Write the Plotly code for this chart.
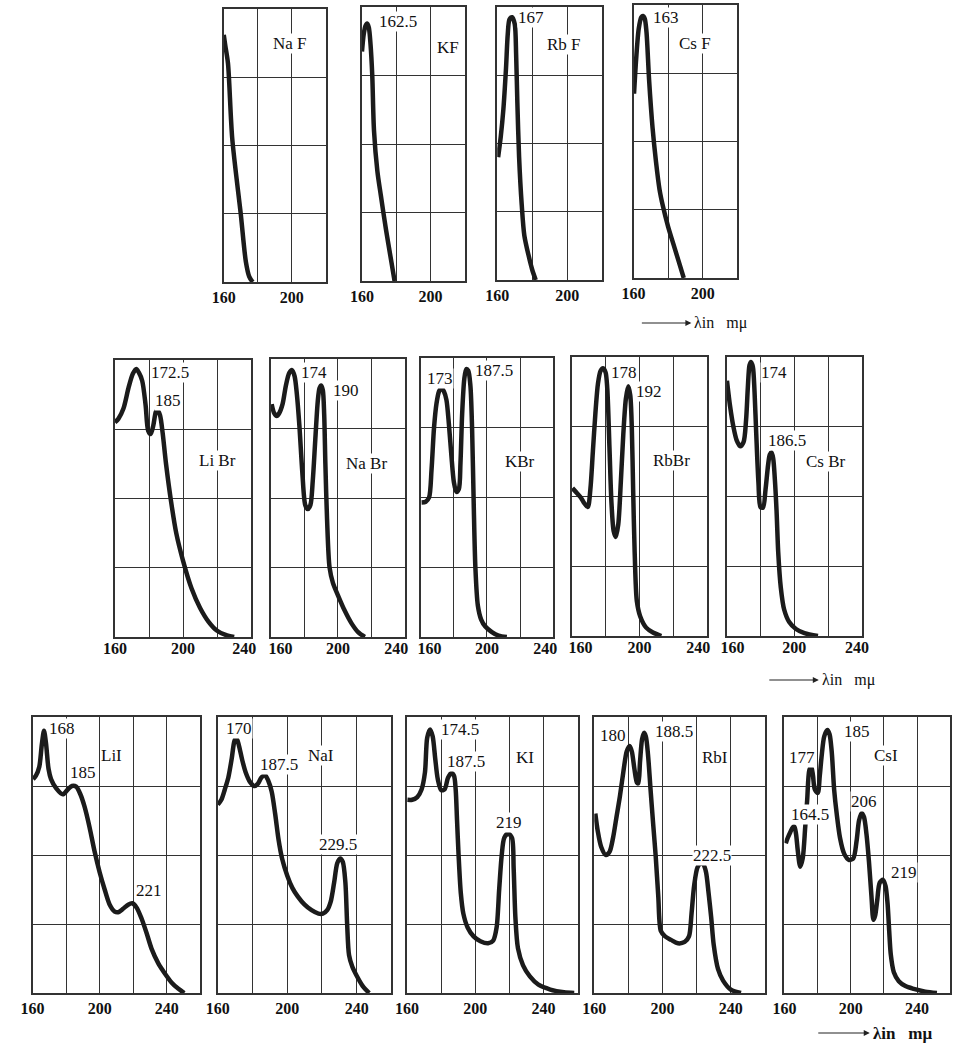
import plotly.graph_objects as go

W, H = 965, 1050

# ---------------- data (wavelength in m-mu, relative absorption in grid units 0..4) ----------------
NAMES = ["NaF", "KF", "RbF", "CsF", "LiBr", "NaBr", "KBr", "RbBr", "CsBr", "LiI", "NaI", "KI", "RbI", "CsI"]

NAF_X = [160, 161, 162.5, 165, 170, 173, 175, 177]
NAF_Y = [3.62, 3.45, 3.2, 2.1, 1.0, 0.3, 0.08, 0]

KF_X = [160, 161, 162, 163, 164, 165, 166, 167, 169, 171, 174, 177, 179]
KF_Y = [3.35, 3.6, 3.72, 3.76, 3.7, 3.45, 3.0, 2.2, 1.6, 1.25, 0.75, 0.3, 0.0]

RBF_X = [160.5, 162, 163.5, 165, 166, 167, 168.5, 170, 170.8, 171.5, 172.5, 174, 175.5, 178, 180, 182]
RBF_Y = [1.8, 2.1, 2.5, 3.1, 3.6, 3.82, 3.85, 3.75, 3.3, 2.6, 1.8, 1.1, 0.65, 0.35, 0.15, 0]

CSF_X = [160.3, 161.5, 163, 164.5, 165.5, 166.5, 167.5, 169, 171, 173, 175, 177, 180, 183, 186, 189]
CSF_Y = [2.7, 3.2, 3.65, 3.82, 3.84, 3.8, 3.6, 2.9, 2.2, 1.7, 1.3, 1.05, 0.75, 0.5, 0.25, 0]

LIBR_X = [160, 162, 165, 168, 170.5, 172.5, 174, 176, 178, 179.5, 181, 182.5, 184, 185, 186.5, 188, 190,
          193, 196, 200, 205, 210, 215, 220, 225, 230]
LIBR_Y = [3.1, 3.15, 3.3, 3.6, 3.8, 3.87, 3.82, 3.7, 3.35, 2.98, 2.93, 3.05, 3.25, 3.28, 3.2, 2.95, 2.5,
          1.95, 1.5, 1.1, 0.7, 0.42, 0.22, 0.09, 0.03, 0]

NABR_X = [160.5, 162, 163.5, 165, 167, 169, 171, 172.7, 174.2, 175.5, 177, 178.8, 180.5, 182, 183.6, 185,
          186.5, 188, 189, 190, 191, 191.8, 192.5, 193.5, 195, 197, 200, 204, 208, 212, 216]
NABR_Y = [3.35, 3.22, 3.18, 3.22, 3.35, 3.62, 3.8, 3.84, 3.75, 3.5, 3.05, 2.36, 1.9, 1.84, 1.9, 2.25,
          2.84, 3.4, 3.58, 3.62, 3.55, 3.2, 2.5, 1.7, 1.0, 0.78, 0.6, 0.38, 0.2, 0.07, 0]

KBR_X = [160.5, 163, 165, 166.5, 168, 169.5, 171, 172.5, 174, 175.5, 177, 178.5, 180, 181.5, 183, 184, 185,
         186.3, 187.5, 188.7, 190, 191, 192, 193, 194.5, 196.5, 199, 203, 207, 212]
KBR_Y = [1.93, 1.94, 2.0, 2.4, 3.0, 3.35, 3.52, 3.57, 3.52, 3.4, 3.05, 2.6, 2.22, 2.08, 2.12, 2.5, 3.2,
         3.7, 3.84, 3.82, 3.6, 3.0, 1.9, 1.0, 0.45, 0.25, 0.15, 0.07, 0.02, 0]

RBBR_X = [160.4, 163, 165.5, 167.5, 169.5, 171, 172.5, 174, 175.5, 177, 178.5, 180, 181, 182.3, 183.5, 184.8,
          186, 187.5, 189, 190.5, 192, 193.4, 194.6, 195.5, 196.3, 197.2, 198.5, 200.5, 204, 208, 213]
RBBR_Y = [2.12, 2.05, 1.98, 1.9, 1.85, 2.1, 2.65, 3.2, 3.62, 3.8, 3.84, 3.78, 3.55, 2.7, 1.9, 1.5,
          1.42, 1.6, 2.2, 2.9, 3.4, 3.58, 3.45, 3.0, 2.1, 1.2, 0.5, 0.28, 0.12, 0.05, 0]

CSBR_X = [160.2, 162, 164, 166, 168, 170, 171.5, 172.5, 173.5, 174.4, 175.5, 176.5, 177.5, 178.8, 180, 181.5,
          183, 184.5, 185.5, 186.5, 187.5, 188.5, 189.5, 190.5, 192, 194, 197, 201, 206, 214]
CSBR_Y = [3.66, 3.3, 3.0, 2.8, 2.72, 2.78, 3.1, 3.55, 3.88, 3.93, 3.86, 3.5, 2.9, 2.2, 1.85, 1.84,
          2.1, 2.45, 2.6, 2.63, 2.55, 2.25, 1.8, 1.2, 0.7, 0.38, 0.2, 0.1, 0.04, 0]

LII_X = [160.3, 162, 164, 165.5, 166.8, 168, 169.5, 171, 174, 178, 181, 183.5, 186, 188.5, 191, 194, 197, 200,
         203, 206, 209, 211, 214, 217, 219.5, 222, 225, 228, 231, 235, 239, 243, 247, 250.5]
LII_Y = [3.1, 3.15, 3.28, 3.6, 3.8, 3.62, 3.25, 3.1, 2.97, 2.88, 2.95, 3.0, 2.99, 2.88, 2.7, 2.4, 2.05, 1.75,
         1.5, 1.28, 1.18, 1.17, 1.22, 1.28, 1.3, 1.24, 1.08, 0.87, 0.64, 0.43, 0.28, 0.15, 0.06, 0]

NAI_X = [160, 162, 164, 166, 168, 169.5, 170.6, 172, 174, 176, 178.5, 181, 183, 185, 187.1, 189, 191, 193,
         195, 197, 200, 203, 206, 210, 214, 218, 220.5, 223, 225, 227, 228.8, 230.5, 232, 233.5, 234.5,
         235.6, 237.5, 240, 243.5, 247.2]
NAI_Y = [2.73, 2.8, 2.95, 3.12, 3.4, 3.65, 3.7, 3.6, 3.38, 3.2, 3.06, 3.0, 3.03, 3.12, 3.16, 3.08, 2.92, 2.6,
         2.22, 1.95, 1.7, 1.52, 1.4, 1.28, 1.2, 1.15, 1.15, 1.2, 1.32, 1.6, 1.88, 1.95, 1.9, 1.6, 1.0,
         0.55, 0.38, 0.25, 0.1, 0]

KI_X = [160.2, 163, 166, 168.5, 170.5, 171.8, 173.5, 175, 176.5, 178, 180, 182, 184, 186, 187.5, 188.5, 189.3,
        190.2, 191.5, 193, 195.5, 199, 203, 207.5, 210.5, 212.5, 214, 215.5, 217, 219.3, 221.5, 222.5, 223.5,
        225, 228, 232, 237, 244, 252, 258]
KI_Y = [2.8, 2.8, 2.84, 2.95, 3.2, 3.7, 3.82, 3.72, 3.4, 3.1, 2.94, 2.95, 3.12, 3.19, 3.15, 2.95, 2.5,
        2.0, 1.45, 1.15, 0.95, 0.82, 0.75, 0.72, 0.76, 0.95, 1.5, 2.0, 2.25, 2.31, 2.25, 1.8, 1.1,
        0.65, 0.4, 0.24, 0.12, 0.05, 0.01, 0]

RBI_X = [160.6, 162, 164, 166.8, 169, 171, 173, 175, 177, 179, 180.7, 182, 183.5, 185, 185.8, 186.8, 188, 189.1,
         190.2, 191.5, 193, 194.5, 196, 197.5, 199, 201.5, 205, 209, 213, 215.5, 217, 218.5, 220.5, 222.5, 224,
         225.5, 227, 228.5, 230, 232.5, 235.5, 240, 246]
RBI_Y = [2.6, 2.35, 2.12, 2.0, 2.05, 2.25, 2.55, 2.85, 3.2, 3.5, 3.58, 3.5, 3.25, 3.05, 3.04, 3.35, 3.68, 3.77,
         3.72, 3.45, 2.94, 2.45, 1.98, 1.4, 0.9, 0.82, 0.77, 0.72, 0.74, 0.82, 1.15, 1.55, 1.82, 1.88, 1.86,
         1.75, 1.45, 1.1, 0.7, 0.35, 0.18, 0.05, 0]

CSI_X = [160.8, 162, 163.5, 165, 166, 167, 168, 169.5, 171, 172.5, 173.7, 175, 176.2, 177.2, 178.3, 180.1, 181.3,
         182.5, 184, 185.9, 187.2, 188.5, 190, 191.5, 193.5, 196, 198.8, 201.5, 203.5, 205, 206.6, 208, 209.5,
         211, 212.5, 213.7, 214.7, 216, 217.5, 219.5, 221, 222.2, 223.2, 224.2, 226, 229, 233, 238, 245, 252]
CSI_Y = [2.17, 2.25, 2.33, 2.4, 2.41, 2.3, 2.07, 1.83, 1.95, 2.4, 2.8, 3.23, 3.28, 3.15, 2.95, 2.9, 3.15,
         3.45, 3.72, 3.81, 3.75, 3.5, 2.94, 2.6, 2.25, 2.02, 1.93, 1.95, 2.2, 2.5, 2.61, 2.55, 2.3,
         1.9, 1.4, 1.06, 1.12, 1.35, 1.6, 1.64, 1.55, 1.3, 0.9, 0.55, 0.3, 0.17, 0.1, 0.06, 0.02, 0]

SERIES = {
    "NaF": (NAF_X, NAF_Y), "KF": (KF_X, KF_Y), "RbF": (RBF_X, RBF_Y), "CsF": (CSF_X, CSF_Y),
    "LiBr": (LIBR_X, LIBR_Y), "NaBr": (NABR_X, NABR_Y), "KBr": (KBR_X, KBR_Y),
    "RbBr": (RBBR_X, RBBR_Y), "CsBr": (CSBR_X, CSBR_Y),
    "LiI": (LII_X, LII_Y), "NaI": (NAI_X, NAI_Y), "KI": (KI_X, KI_Y), "RbI": (RBI_X, RBI_Y), "CsI": (CSI_X, CSI_Y),
}

# x grid values and tick labels per row
ROW1_GRID = [160, 180, 200, 220]
ROW1_TEXT = ["160", "", "200", ""]
ROW2_GRID = [160, 180, 200, 220, 240]
ROW2_LABELS = [160, 200, 240]
ROW3_GRID = [160, 180, 200, 220, 240, 260]
ROW3_TEXT = ["160", "", "200", "", "240", ""]

# peak / compound labels (text)
LABEL_TEXTS = [
    "Na F", "162.5", "KF", "167", "Rb F", "163", "Cs F",
    "172.5", "185", "Li Br", "174", "190", "Na Br", "173", "187.5", "KBr", "178", "192", "RbBr",
    "174", "186.5", "Cs Br",
    "168", "LiI", "185", "221", "170", "187.5", "NaI", "229.5", "174.5", "187.5", "KI", "219",
    "180", "188.5", "RbI", "222.5", "177", "185", "CsI", "164.5", "206", "219",
]
UNIT_TEXT = "λin\u00a0\u00a0\u00a0mμ"

# ---------------- layout geometry (pixels) ----------------
BOXES = {  # left, right, top, bottom
    "NaF": (216, 320, 9, 282), "KF": (357, 462, 7, 281), "RbF": (495, 602, 7, 280), "CsF": (634, 740, 5, 278),
    "LiBr": (105, 244, 360, 637), "NaBr": (264, 401, 359, 637), "KBr": (417, 552, 358, 637),
    "RbBr": (571, 709, 357, 636), "CsBr": (729, 867, 357, 636),
    "LiI": (21, 192, 717, 993), "NaI": (210, 387, 717, 993), "KI": (403, 577, 717, 993),
    "RbI": (594, 768, 717, 993), "CsI": (788, 957, 717, 993),
}
ROW = {n: (1 if i < 4 else 2 if i < 9 else 3) for i, n in enumerate(NAMES)}
# row-2 tick labels sit slightly inside the frame edges (pixel nudges for first / last label)
ROW2_NUDGE = {"LiBr": (0, -7), "NaBr": (10, -9), "KBr": (9, -8), "RbBr": (9, -9), "CsBr": (6, -5)}

LABEL_PIXELS = [
    (284, 43), (394, 21), (445, 48), (529, 18), (563, 45), (667, 17), (697, 43),
    (161, 372), (159, 400), (210, 461), (308, 372), (341, 390), (362, 463), (437, 378), (492, 370), (518, 462),
    (624, 372), (650, 391), (673, 461), (777, 372), (791, 441), (830, 462),
    (51, 728), (102, 755), (72, 772), (140, 890), (232, 728), (272, 764), (315, 755), (333, 844),
    (457, 729), (463, 761), (523, 757), (507, 822),
    (613, 735), (675, 731), (717, 757), (714, 855), (806, 757), (862, 731), (892, 755), (814, 814), (869, 801),
    (910, 872),
]
UNIT_ARROWS = [  # tail x, head x, y, text-left x, font size, bold
    (642, 693, 323, 694, 16, False),
    (772, 823, 680, 824, 16, False),
    (822, 875, 1033, 876, 17, True),
]

INK = "#1b1b1b"
GRID = "#333333"
SERIF = "Liberation Serif, Times New Roman, serif"
TICKFONT = dict(family=SERIF, size=16, color="#111", weight="bold")


def px(x):
    return x / W


def py(y):
    return 1 - y / H


fig = go.Figure()
layout = {}
extra = 15

for i, name in enumerate(NAMES):
    k = "" if i == 0 else str(i + 1)
    xs, ys = SERIES[name]
    fig.add_trace(go.Scatter(
        x=xs, y=ys, mode="lines", xaxis="x" + k, yaxis="y" + k,
        line=dict(color=INK, width=4.5, shape="spline", smoothing=0.8),
        hoverinfo="skip", showlegend=False,
    ))
    l, r, t, b = BOXES[name]
    row = ROW[name]
    if row == 1:
        tv, tt, rng = ROW1_GRID, ROW1_TEXT, [160, 220]
    elif row == 2:
        tv, rng = ROW2_GRID, [160, 240]
        tt = [""] * len(tv)
    else:
        tv, tt, rng = ROW3_GRID, ROW3_TEXT, [160, 260]
    layout["xaxis" + k] = dict(
        domain=[px(l), px(r)], anchor="y" + k, range=rng,
        tickvals=tv, ticktext=tt, ticks="", showgrid=True, gridcolor=GRID, gridwidth=1.3,
        showline=True, linecolor=GRID, linewidth=1.6, mirror=True, zeroline=False,
        tickfont=TICKFONT, fixedrange=True,
    )
    layout["yaxis" + k] = dict(
        domain=[py(b), py(t)], anchor="x" + k, range=[0, 4],
        tickvals=[1, 2, 3], showticklabels=False, ticks="", showgrid=True, gridcolor=GRID, gridwidth=1.3,
        showline=True, linecolor=GRID, linewidth=1.6, mirror=True, zeroline=False, fixedrange=True,
    )
    if row == 2:
        # overlay axis carrying only the tick labels, nudged slightly inside the frame like the print
        units_per_px = (rng[1] - rng[0]) / (r - l)
        dl, dr = ROW2_NUDGE[name]
        lab_pos = [ROW2_LABELS[0] + dl * units_per_px, ROW2_LABELS[1], ROW2_LABELS[2] + dr * units_per_px]
        ek = str(extra)
        extra += 1
        fig.add_trace(go.Scatter(x=[None], y=[None], xaxis="x" + ek, yaxis="y" + k,
                                 mode="lines", hoverinfo="skip", showlegend=False))
        layout["xaxis" + ek] = dict(
            domain=[px(l), px(r)], anchor="y" + k, overlaying="x" + k, range=rng,
            tickvals=lab_pos, ticktext=[str(v) for v in ROW2_LABELS], ticks="", side="bottom",
            showgrid=False, showline=False, zeroline=False, tickfont=TICKFONT, fixedrange=True,
        )

annotations = []
for text, (x0, y0) in zip(LABEL_TEXTS, LABEL_PIXELS):
    annotations.append(dict(
        x=px(x0), y=py(y0), xref="paper", yref="paper", text=text, showarrow=False,
        xanchor="center", yanchor="middle", font=dict(family=SERIF, size=17, color="#111"),
        bgcolor="white", borderpad=0,
    ))

for tail, head, yy, tx, fs, bold in UNIT_ARROWS:
    annotations.append(dict(
        x=px(head), y=py(yy), xref="paper", yref="paper", text="", showarrow=True,
        ax=tail - head, ay=0, axref="pixel", ayref="pixel",
        arrowhead=2, arrowsize=1, arrowwidth=1.2, arrowcolor="#222",
    ))
    annotations.append(dict(
        x=px(tx), y=py(yy), xref="paper", yref="paper", text=UNIT_TEXT, showarrow=False,
        xanchor="left", yanchor="middle",
        font=dict(family=SERIF, size=fs, color="#111", weight="bold" if bold else "normal"),
    ))

fig.update_layout(
    width=W, height=H, margin=dict(l=0, r=0, t=0, b=0),
    paper_bgcolor="white", plot_bgcolor="white",
    showlegend=False, annotations=annotations, **layout,
)

fig.write_html("out.html", config={"displayModeBar": False})
